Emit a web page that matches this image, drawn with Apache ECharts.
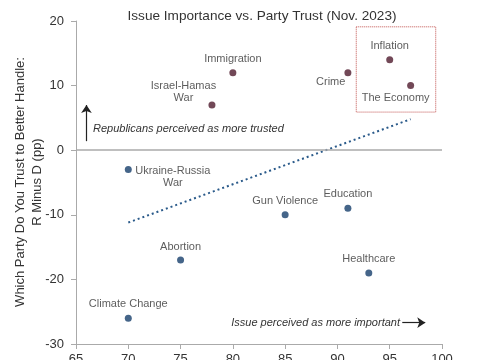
<!DOCTYPE html>
<html><head><meta charset="utf-8">
<script src="https://cdn.jsdelivr.net/npm/echarts@6/dist/echarts.min.js"></script>
<style>html,body{margin:0;padding:0;background:#fff}#c{width:485px;height:360px}</style>
</head><body><div id="c"></div>
<script>
const issues = ['Immigration','Israel-Hamas\nWar','Crime','Inflation','The Economy','Ukraine-Russia\nWar','Gun Violence','Education','Abortion','Healthcare','Climate Change'];
const importance = [80, 78, 91, 95, 97, 70, 85, 91, 75, 93, 70];
const trustRminusD = [12, 7, 12, 14, 10, -3, -10, -9, -17, -19, -26];
const trendX = [70, 97];
const trendY = [-11.2, 4.8];
const xTicks = [65, 70, 75, 80, 85, 90, 95, 100];
const yTicks = [-30, -20, -10, 0, 10, 20];

const labelStyle = {
  'Immigration': {position:'top', distance:4},
  'Israel-Hamas\nWar': {position:'left', offset:[-20,-13], align:'center'},
  'Crime': {position:'left', offset:[6,9]},
  'Inflation': {position:'top', distance:4},
  'The Economy': {position:'bottom', offset:[-15,-2]},
  'Ukraine-Russia\nWar': {position:'right', offset:[36,7], align:'center'},
  'Gun Violence': {position:'top', distance:4},
  'Education': {position:'top', distance:5},
  'Abortion': {position:'top', distance:4},
  'Healthcare': {position:'top', distance:4},
  'Climate Change': {position:'top', distance:5}
};

const pts = issues.map((n,i)=>{
  const ls = labelStyle[n];
  return {
    name: n,
    value: [importance[i], trustRminusD[i]],
    itemStyle: {color: trustRminusD[i] > 0 ? '#4f1a2d' : '#173f6b'},
    label: Object.assign({show:true, formatter: n, color:'#333', fontSize:11, fontFamily:'Liberation Sans, Arial', lineHeight:12}, ls)
  };
});

const chart = echarts.init(document.getElementById('c'));
chart.setOption({
  animation:false,
  title:{text:'Issue Importance vs. Party Trust (Nov. 2023)', left:257, textAlign:'center', top:4,
    textStyle:{fontSize:13.6, fontWeight:'normal', color:'#333', fontFamily:'Liberation Sans, Arial'}},
  grid:{left:76, right:43, top:21, bottom:16, containLabel:false, outerBoundsMode:'none'},
  xAxis:{type:'value', min:xTicks[0], max:xTicks[xTicks.length-1], interval:5,
    axisLine:{show:true, onZero:false, lineStyle:{color:'#aaa'}}, axisTick:{show:true, lineStyle:{color:'#aaa'}},
    splitLine:{show:false}, axisLabel:{color:'#333', fontSize:13, fontFamily:'Liberation Sans, Arial', margin:9}},
  yAxis:{type:'value', min:yTicks[0], max:yTicks[yTicks.length-1], interval:10,
    axisLine:{show:true, lineStyle:{color:'#aaa'}}, axisTick:{show:true, lineStyle:{color:'#aaa'}},
    splitLine:{show:false}, axisLabel:{color:'#333', fontSize:13, fontFamily:'Liberation Sans, Arial', margin:12}},
  graphic:[
    {type:'text', x:29, y:182, rotation:Math.PI/2, style:{text:'Which Party Do You Trust to Better Handle:\nR Minus D (pp)', align:'center', verticalAlign:'middle', font:'13px Liberation Sans, Arial', fill:'#333', lineHeight:17}},
    {type:'text', x:93, y:129, style:{text:'Republicans perceived as more trusted', font:'italic 11px Liberation Sans, Arial', fill:'#333', verticalAlign:'middle'}},
    {type:'text', x:400, y:323, style:{text:'Issue perceived as more important', font:'italic 11px Liberation Sans, Arial', fill:'#333', verticalAlign:'middle', align:'right'}}
  ],
  series:[
    {type:'line', data: trendX.map((x,i)=>[x, trendY[i]]), symbol:'none', silent:true,
      lineStyle:{color:'#2a5a8a', width:2, type:[2,3]},
      markLine:{silent:true, symbol:'none', label:{show:false}, lineStyle:{color:'#aaa', width:1.5, type:'solid'},
        data:[[{coord:[65,0]},{coord:[100,0]}]]}},
    {type:'scatter', data: pts, symbolSize:7, z:5,
      markArea:{silent:true, itemStyle:{color:'rgba(0,0,0,0)', borderColor:'#c0504d', borderWidth:1, borderType:'dotted'},
        data:[[{coord:[91.8,19.1]},{coord:[99.4,5.9]}]]},
      markLine:{silent:true, symbol:['none','arrow'], symbolSize:8, label:{show:false}, lineStyle:{color:'#222', width:1.2, type:'solid'},
        data:[[{coord:[66,1.4]},{coord:[66,7]}], [{coord:[96.2,-26.7]},{coord:[98.4,-26.7]}]]}}
  ]
});
</script></body></html>
